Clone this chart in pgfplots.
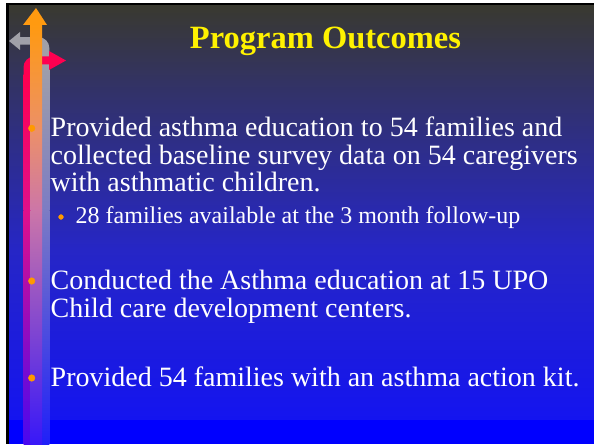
\documentclass[border=0pt]{standalone}
\usepackage{pgfplots}
\pgfplotsset{compat=1.18}
\usepackage{fontspec}
\setmainfont{Liberation Serif}
\definecolor{bgA}{HTML}{393930}
\definecolor{bgB}{HTML}{333362}
\definecolor{bgC}{HTML}{2626C6}
\definecolor{bgD}{HTML}{1414F0}
\definecolor{bgE}{HTML}{0000FF}
\definecolor{orA}{HTML}{FF9A10}
\definecolor{orB}{HTML}{EC9068}
\definecolor{orC}{HTML}{CC76A8}
\definecolor{orD}{HTML}{3818F8}
\definecolor{rdA}{HTML}{FF0050}
\definecolor{rdB}{HTML}{E0108A}
\definecolor{rdC}{HTML}{4808F0}
\definecolor{gyA}{HTML}{A0A0A8}
\definecolor{gyB}{HTML}{7C7CC4}
\definecolor{gyC}{HTML}{2020F8}
\definecolor{bul}{HTML}{FF9900}
\begin{document}
\begin{tikzpicture}
\begin{axis}[width=594bp,height=444bp,scale only axis,
  xmin=0,xmax=594,ymin=0,ymax=444,y dir=reverse,hide axis,clip=false]
% page and frame
\fill[white] (0,0) rectangle (594,444);
\fill[black] (6,3) rectangle (594,444);
% background gradient
\shade[top color=bgA,bottom color=bgB] (9,6) rectangle (594,80.5);
\shade[top color=bgB,bottom color=bgC] (9,80) rectangle (594,250.5);
\shade[top color=bgC,bottom color=bgD] (9,250) rectangle (594,420.5);
\fill[bgE] (9,420) rectangle (594,444);
% gray arrow
\draw[gyA,line width=7.5bp,rounded corners=7bp] (45.5,444) -- (45.5,41) -- (19,41);
\fill[gyA] (20,32) -- (9,41) -- (20,50) -- cycle;
\shade[top color=gyA,bottom color=gyB] (41.75,60) rectangle (49.25,210.5);
\shade[top color=gyB,bottom color=gyC] (41.75,210) rectangle (49.25,444);
% red arrow
\draw[rdA,line width=8bp,rounded corners=7bp] (27.5,444) -- (27.5,60.5) -- (50,60.5);
\fill[rdA] (49,51) -- (66,60.5) -- (49,70) -- cycle;
\shade[top color=rdA,bottom color=rdB] (23.5,75) rectangle (31.5,210.5);
\shade[top color=rdB,bottom color=rdC] (23.5,210) rectangle (31.5,444);
% orange arrow
\shade[top color=orA,bottom color=orB] (30.5,24) rectangle (42,130.5);
\shade[top color=orB,bottom color=orC] (30.5,130) rectangle (42,210.5);
\shade[top color=orC,bottom color=orD] (30.5,210) rectangle (42,444);
\fill[orA] (23,25) -- (36,8) -- (47,25) -- cycle;
% bullets
\addplot[only marks,mark=*,mark size=3.3bp,color=bul] coordinates {(31.7,128.3) (31.7,281) (31.7,378)};
\addplot[only marks,mark=*,mark size=2.4bp,color=bul] coordinates {(61,217)};
% title
\node[anchor=base,text=yellow,font=\fontsize{32.5bp}{33bp}\selectfont\bfseries] at (325.5,49) {Program Outcomes};
% body
\begin{scope}[every node/.style={anchor=base west,text=white,inner sep=0pt,font=\fontsize{28bp}{28bp}\selectfont}]
\node at (50.5,136.7) {Provided asthma education to 54 families and};
\node at (50.5,164.5) {collected baseline survey data on 54 caregivers};
\node at (50.5,191.7) {with asthmatic children.};
\node at (50.5,289) {Conducted the Asthma education at 15 UPO};
\node at (50.5,317) {Child care development centers.};
\node at (50.5,386) {Provided 54 families with an asthma action kit.};
\end{scope}
\node[anchor=base west,text=white,inner sep=0pt,font=\fontsize{24bp}{24bp}\selectfont] at (75.5,223) {28 families available at the 3 month follow-up};
\end{axis}
\end{tikzpicture}
\end{document}
